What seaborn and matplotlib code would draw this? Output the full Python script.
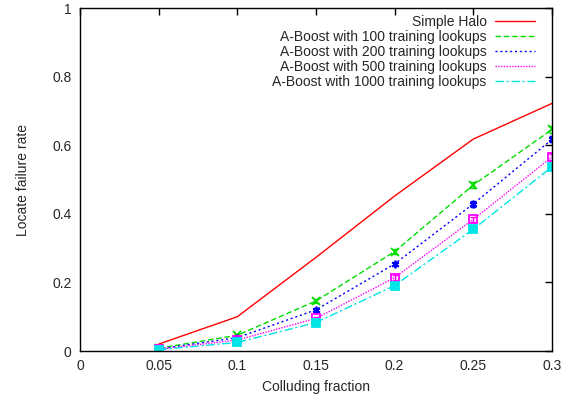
import numpy as np
import pandas as pd
import matplotlib
matplotlib.use("Agg")
import matplotlib.pyplot as plt
import seaborn as sns

# data
fraction = [0.05, 0.10, 0.15, 0.20, 0.25, 0.30]
simple_halo = [0.02, 0.10, 0.273, 0.452, 0.618, 0.722]
boost_100 = [0.008, 0.046, 0.146, 0.290, 0.484, 0.646]
boost_200 = [0.006, 0.039, 0.120, 0.254, 0.429, 0.617]
boost_500 = [0.005, 0.032, 0.095, 0.214, 0.384, 0.566]
boost_1000 = [0.004, 0.025, 0.083, 0.191, 0.355, 0.537]
err_100 = [0.002, 0.004, 0.006, 0.008, 0.009, 0.009]
err_200 = [0.002, 0.004, 0.005, 0.007, 0.008, 0.009]
err_500 = [0.002, 0.003, 0.005, 0.007, 0.008, 0.008]
err_1000 = [0.002, 0.003, 0.004, 0.006, 0.007, 0.008]

labels = ["Simple Halo",
          "A-Boost with 100 training lookups",
          "A-Boost with 200 training lookups",
          "A-Boost with 500 training lookups",
          "A-Boost with 1000 training lookups"]
series = [simple_halo, boost_100, boost_200, boost_500, boost_1000]
errors = [None, err_100, err_200, err_500, err_1000]
colors = ["#ff0000", "#00dd00", "#0000ff", "#ff00ff", "#00e5e5"]
dashes = ["", (4, 2), (1.5, 2), (1, 1), (6, 2, 1.5, 2)]
markers = [None, "x", (6, 2, 0), "s", "s"]
filled = [False, False, False, False, True]

sns.set_theme(style="white")
plt.rcParams["font.family"] = ["Liberation Sans", "DejaVu Sans"]

fig = plt.figure(figsize=(5.75, 4.03), dpi=100)
ax = fig.add_axes([0.139, 0.129, 0.821, 0.851])

for i in range(len(series)):
    df = pd.DataFrame({"x": fraction, "y": series[i]})
    sns.lineplot(data=df, x="x", y="y", ax=ax, color=colors[i], lw=1,
                 label=labels[i], dashes=False)
    line = ax.get_lines()[-1]
    if dashes[i]:
        line.set_dashes(dashes[i])
    if errors[i] is not None:
        ax.errorbar(fraction, series[i], yerr=errors[i], fmt="none",
                    ecolor=colors[i], elinewidth=1, capsize=2)
        ax.plot(fraction, series[i], ls="none", marker=markers[i],
                ms=6 if filled[i] else 5.5,
                mfc=colors[i] if filled[i] else "none",
                mec=colors[i], mew=1.3)

ax.set_xlim(0, 0.3)
ax.set_ylim(0, 1)
ax.set_xticks([0, 0.05, 0.1, 0.15, 0.2, 0.25, 0.3])
ax.set_xticklabels(["0", "0.05", "0.1", "0.15", "0.2", "0.25", "0.3"])
ax.set_yticks([0, 0.2, 0.4, 0.6, 0.8, 1])
ax.set_yticklabels(["0", "0.2", "0.4", "0.6", "0.8", "1"])
ax.tick_params(direction="in", length=5, width=1, color="black",
               top=True, right=True, labelsize=10, pad=6)
for s in ax.spines.values():
    s.set_color("black")
    s.set_linewidth(1)

ax.set_xlabel("Colluding fraction", fontsize=10, labelpad=5)
ax.set_ylabel("Locate failure rate", fontsize=10, labelpad=16)

ax.legend(loc="upper right", bbox_to_anchor=(0.976, 0.996), frameon=False,
          markerfirst=False, fontsize=10, handlelength=2.9,
          labelspacing=0.07, borderaxespad=0, handletextpad=0.6)

fig.savefig("out.png", dpi=100)
